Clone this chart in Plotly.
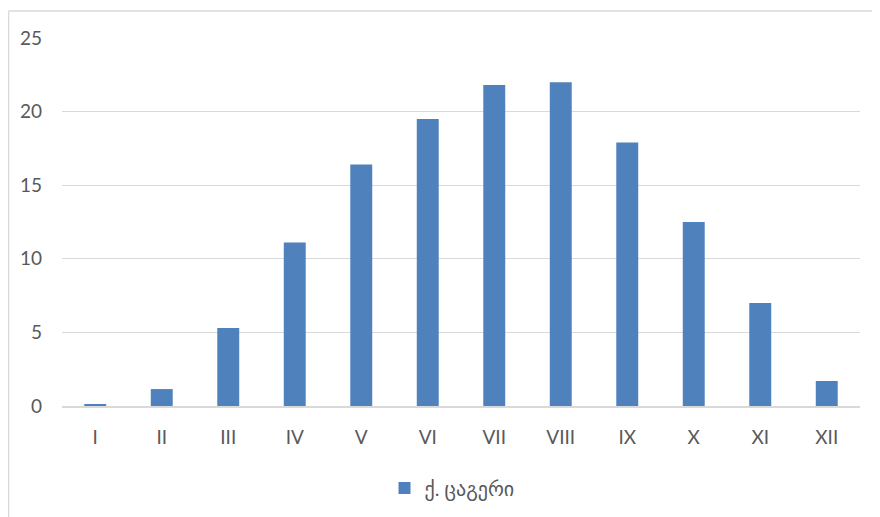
import plotly.graph_objects as go

months = ["I", "II", "III", "IV", "V", "VI", "VII", "VIII", "IX", "X", "XI", "XII"]
values = [0.1, 1.15, 5.3, 11.1, 16.4, 19.5, 21.8, 22.0, 17.9, 12.5, 7.0, 1.7]
series_name = "ქ. ცაგერი"
y_ticks = [0, 5, 10, 15, 20, 25]

font_family = "Lato, DejaVu Sans, sans-serif"

fig = go.Figure()
fig.add_trace(go.Bar(
    x=months, y=values, name=series_name,
    marker=dict(color="#4F81BD", line=dict(width=0)),
    width=0.33, showlegend=True,
))

# page has an 8px body margin; work in figure coordinates (screen - 8)
OFF = 8
W, H = 880, 517
ml, mt = 62 - OFF, 38 - OFF
pw, ph = 798, 368
mr = W - ml - pw
mb = H - mt - ph

def px_x(x):
    return (x - OFF - ml) / pw

def px_y(y):
    return (mt + ph - (y - OFF)) / ph

fig.update_layout(
    width=W, height=H,
    margin=dict(l=ml, r=mr, t=mt, b=mb, autoexpand=False),
    paper_bgcolor="white", plot_bgcolor="white",
    font=dict(family=font_family, size=19, color="#595959"),
    xaxis=dict(showgrid=False, showline=True, linecolor="#D9D9D9", linewidth=1.5,
               ticks="", ticklabelstandoff=13, tickfont=dict(size=19, color="#595959")),
    yaxis=dict(range=[0, 25], tickvals=y_ticks, showgrid=True, gridcolor="#D9D9D9",
               gridwidth=1, zeroline=False, showline=False, ticks="",
               ticklabelstandoff=19, tickfont=dict(size=19, color="#595959")),
    legend=dict(orientation="h", x=px_x(452), xanchor="center", y=px_y(488), yanchor="middle",
                font=dict(size=20, color="#595959"), itemwidth=30),
    shapes=[
        dict(type="line", xref="paper", yref="paper", x0=px_x(8.5), x1=px_x(8.5),
             y0=px_y(530), y1=px_y(11), line=dict(color="#D9D9D9", width=1.5)),
        dict(type="line", xref="paper", yref="paper", x0=px_x(8.5), x1=px_x(890),
             y0=px_y(11), y1=px_y(11), line=dict(color="#D9D9D9", width=1.5)),
    ],
)

fig.write_html("out.html")
